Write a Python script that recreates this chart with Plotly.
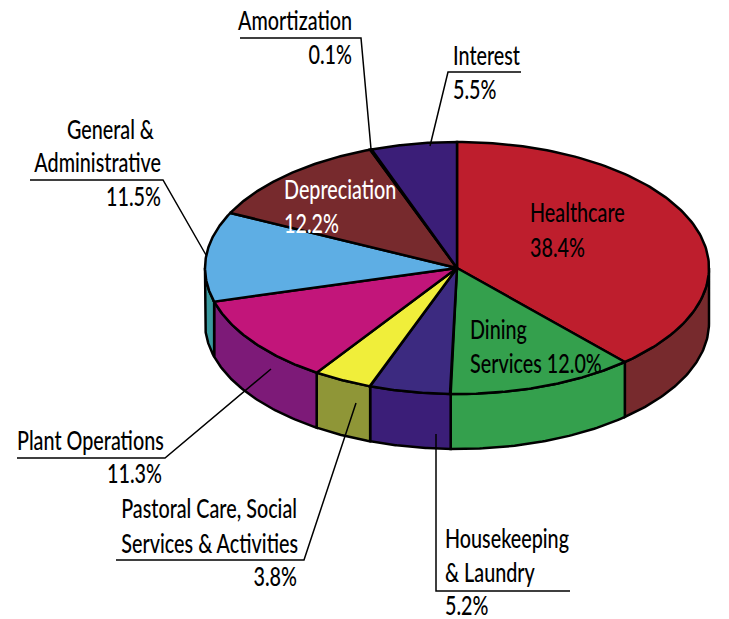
import numpy as np
import plotly.graph_objects as go

# Data
categories = ["Healthcare", "Dining Services", "Housekeeping & Laundry",
              "Pastoral Care, Social Services & Activities", "Plant Operations",
              "General & Administrative", "Depreciation", "Amortization", "Interest"]
values = [38.4, 12.0, 5.2, 3.8, 11.3, 11.5, 12.2, 0.1, 5.5]
top_colors = ["#BE1E2D", "#34A04D", "#3C2A80", "#F0EE3A", "#C2157A",
              "#5EAEE4", "#772A2D", "#3B1E78", "#3B1E78"]
side_colors = ["#772A2D", "#34A04D", "#3B1E78", "#8F9637", "#7D1A78",
               "#3A9AA0", "#772A2D", "#3B1E78", "#3B1E78"]

# Pie geometry (pixels)
CX, CY, RX, RY, DEPTH = 457, 268, 252, 126, 55
W, H = 729, 619
FONT = "Lato"
SIZE = 26
WEIGHT = 500
CONDENSE = 0.76
TEXT_DY = 2


def px(t):
    return CX + RX * np.sin(np.radians(t))


def py(t):
    return CY - RY * np.cos(np.radians(t))


fig = go.Figure()
total = sum(values)
edges = np.concatenate([[0], np.cumsum(values) / total * 360])

# walls (only the front half of the cylinder is visible)
for i, name in enumerate(categories):
    a, b = max(edges[i], 90), min(edges[i + 1], 270)
    if b <= a:
        continue
    t = np.linspace(a, b, 60)
    x = np.concatenate([px(t), px(t[::-1]), [px(a)]])
    y = np.concatenate([py(t), py(t[::-1]) + DEPTH, [py(a)]])
    fig.add_trace(go.Scatter(x=x, y=y, mode="lines", fill="toself", fillcolor=side_colors[i],
                             line=dict(color="black", width=2.5), name=name, showlegend=False,
                             hoverinfo="skip"))

# top faces
for i, name in enumerate(categories):
    t = np.linspace(edges[i], edges[i + 1], 120)
    x = np.concatenate([[CX], px(t), [CX]])
    y = np.concatenate([[CY], py(t), [CY]])
    fig.add_trace(go.Scatter(x=x, y=y, mode="lines", fill="toself", fillcolor=top_colors[i],
                             line=dict(color="black", width=2.5), name=name, showlegend=False,
                             text=f"{name} {values[i]}%", hoverinfo="text"))

# Leader lines
leaders = [
    [(240, 38), (361, 38), (371, 149)],
    [(521, 72), (448, 72), (430, 146)],
    [(30, 180), (163, 180), (206, 255)],
    [(17, 458), (165, 458), (271, 369)],
    [(116, 560), (304, 560), (356, 403)],
    [(570, 591), (436, 591), (436, 434)],
]
shapes = []
for pts in leaders:
    path = "M " + " L ".join(f"{x},{y}" for x, y in pts)
    shapes.append(dict(type="path", path=path, xref="x", yref="y",
                       line=dict(color="black", width=1.5)))

# Labels: text, x, y-centre, anchor, colour
labels = [
    ("Amortization", 352, 21, "right", "black"),
    ("0.1%", 352, 55, "right", "black"),
    ("Interest", 453, 56, "left", "black"),
    ("5.5%", 453, 90, "left", "black"),
    ("General &", 154, 130, "right", "black"),
    ("Administrative", 161, 163, "right", "black"),
    ("11.5%", 161, 197, "right", "black"),
    ("Depreciation", 284, 190, "left", "white"),
    ("12.2%", 284, 224, "left", "white"),
    ("Healthcare", 530, 213, "left", "black"),
    ("38.4%", 530, 248, "left", "black"),
    ("Dining", 470, 330, "left", "black"),
    ("Services 12.0%", 470, 364, "left", "black"),
    ("Plant Operations", 17, 441, "left", "black"),
    ("11.3%", 162, 474, "right", "black"),
    ("Pastoral Care, Social", 297, 509, "right", "black"),
    ("Services & Activities", 298, 544, "right", "black"),
    ("3.8%", 297, 577, "right", "black"),
    ("Housekeeping", 445, 539, "left", "black"),
    ("& Laundry", 445, 573, "left", "black"),
    ("5.2%", 445, 606, "left", "black"),
]
for anchor, pos in (("left", "middle right"), ("right", "middle left")):
    for colour in ("black", "white"):
        sel = [l for l in labels if l[3] == anchor and l[4] == colour]
        if not sel:
            continue
        fig.add_trace(go.Scatter(x=[l[1] for l in sel], y=[l[2] + TEXT_DY for l in sel],
                                 text=[l[0] for l in sel], mode="text", textposition=pos,
                                 textfont=dict(family=FONT, size=SIZE, color=colour, weight=WEIGHT),
                                 cliponaxis=False, hoverinfo="skip", showlegend=False))

fig.update_layout(width=W, height=H, margin=dict(l=0, r=0, t=0, b=0),
                  paper_bgcolor="white", plot_bgcolor="white", showlegend=False,
                  xaxis=dict(range=[0, W], visible=False, fixedrange=True),
                  yaxis=dict(range=[H, 0], visible=False, fixedrange=True),
                  shapes=shapes)
post = """
document.body.style.margin='0';
document.querySelectorAll('.textpoint text').forEach(function(t){
  var w=t.getComputedTextLength();
  t.setAttribute('lengthAdjust','spacingAndGlyphs');
  t.setAttribute('textLength',(w*%s).toFixed(2));
});
""" % CONDENSE
fig.write_html("out.html", config=dict(displayModeBar=False), post_script=post)
